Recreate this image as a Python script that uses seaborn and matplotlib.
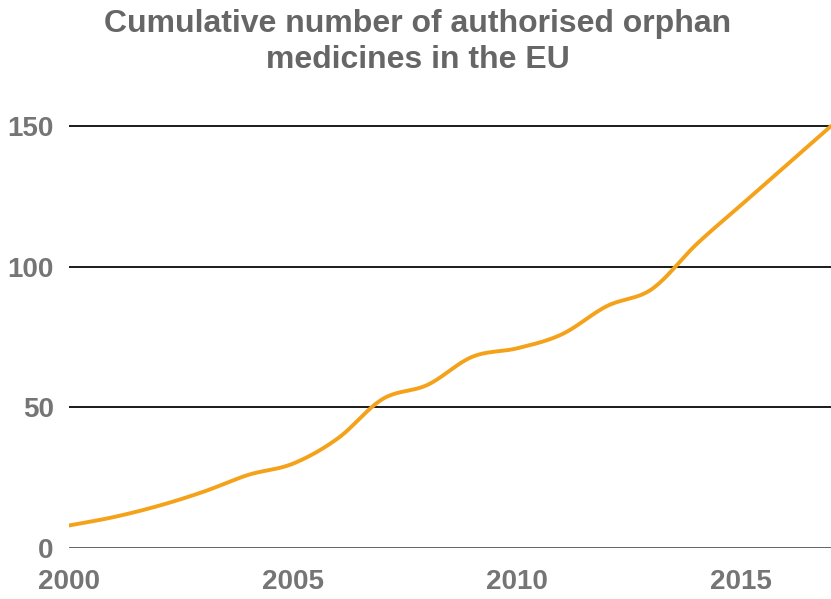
import numpy as np
import pandas as pd
import matplotlib
matplotlib.use("Agg")
import matplotlib.pyplot as plt
import seaborn as sns

years = [2000, 2001, 2002, 2003, 2004, 2005, 2006, 2007, 2008,
         2009, 2010, 2011, 2012, 2013, 2014, 2015, 2016, 2017]
cumulative = [8, 11, 15, 20, 26, 30, 39, 53, 58,
              68, 71, 76, 86, 92, 108, 122, 136, 150]
x_ticks = [2000, 2005, 2010, 2015]
y_ticks = [0, 50, 100, 150]
title = "Cumulative number of authorised orphan\nmedicines in the EU"


def smooth(xs, ys, steps=20):
    """Catmull-Rom curve through the points, for a smoothed line."""
    xs = np.asarray(xs, float)
    ys = np.asarray(ys, float)
    px = np.concatenate([[2 * xs[0] - xs[1]], xs, [2 * xs[-1] - xs[-2]]])
    py = np.concatenate([[2 * ys[0] - ys[1]], ys, [2 * ys[-1] - ys[-2]]])
    out_x, out_y = [], []
    t = np.linspace(0, 1, steps, endpoint=False)
    for i in range(1, len(px) - 2):
        for arr, out in ((px, out_x), (py, out_y)):
            p0, p1, p2, p3 = arr[i - 1], arr[i], arr[i + 1], arr[i + 2]
            out.extend(0.5 * ((2 * p1) + (-p0 + p2) * t
                              + (2 * p0 - 5 * p1 + 4 * p2 - p3) * t ** 2
                              + (-p0 + 3 * p1 - 3 * p2 + p3) * t ** 3))
    out_x.append(xs[-1])
    out_y.append(ys[-1])
    return np.array(out_x), np.array(out_y)


sx, sy = smooth(years, cumulative)
curve = pd.DataFrame({"year": sx, "count": sy})

sns.set_theme(style="white")
plt.rcParams["font.family"] = ["Liberation Sans", "DejaVu Sans"]

fig = plt.figure(figsize=(8.31, 5.99), dpi=100)
ax = fig.add_axes([69 / 831, 1 - 548 / 599, (831 - 69) / 831, (548 - 112) / 599])

for v in y_ticks[1:]:
    ax.axhline(v, color="#1a1a1a", lw=1.4, zorder=1)
ax.axhline(0, color="#555555", lw=2.0, zorder=1)

sns.lineplot(data=curve, x="year", y="count", ax=ax, color="#F5A21B",
             lw=2.8, zorder=3, sort=False)

ax.set_xlim(2000, 2017)
ax.set_ylim(0, 155)
ax.set_xticks(x_ticks)
ax.set_yticks(y_ticks)
ax.set_xlabel("")
ax.set_ylabel("")
for s in ax.spines.values():
    s.set_visible(False)
ax.tick_params(axis="both", length=0, labelsize=20, labelcolor="#757575")
ax.tick_params(axis="x", pad=15)
ax.tick_params(axis="y", pad=11)
for lab in ax.get_xticklabels() + ax.get_yticklabels():
    lab.set_fontweight("bold")

fig.text(0.503, 0.985, title, ha="center", va="top", fontsize=23,
         fontweight="bold", color="#666666", linespacing=1.28)

fig.savefig("out.png", dpi=100)
